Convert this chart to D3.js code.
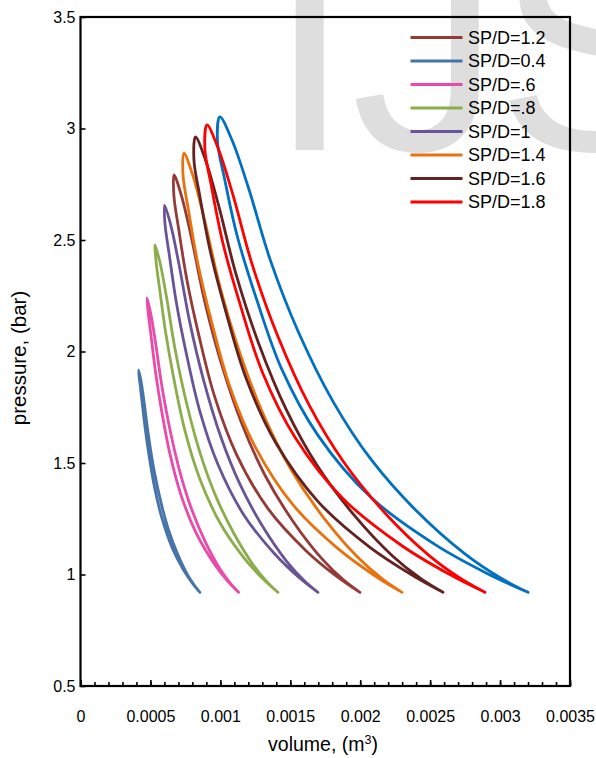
<!DOCTYPE html>
<html><head><meta charset="utf-8">
<script src="https://cdn.jsdelivr.net/npm/d3@7"></script>
<style>body{margin:0;background:#fff}</style>
</head><body><svg id="chart" width="596" height="758"></svg>
<script>
// ---- tick labels ----
const volumeTicks = [0, 0.0005, 0.001, 0.0015, 0.002, 0.0025, 0.003, 0.0035];
const volumeTickLabels = ["0", "0.0005", "0.001", "0.0015", "0.002", "0.0025", "0.003", "0.0035"];
const pressureTicks = [0.5, 1, 1.5, 2, 2.5, 3, 3.5];
const pressureTickLabels = ["0.5", "1", "1.5", "2", "2.5", "3", "3.5"];

// ---- series (each loop: from the bottom tip up the inner branch, over the peak, down the outer branch) ----
const seriesNames = ["SP/D=1.2", "SP/D=0.4", "SP/D=.6", "SP/D=.8", "SP/D=1", "SP/D=1.4", "SP/D=1.6", "SP/D=1.8", "unlabelled"];

const vol_12 = [0.001998, 0.001825, 0.001612, 0.001342, 0.001116, 0.000958, 0.000843, 0.000760, 0.000702, 0.000668, 0.000669, 0.000722, 0.000793, 0.000886, 0.001005, 0.001158, 0.001320, 0.001520, 0.001727, 0.001880, 0.001998];
const pres_12 = [0.92, 0.995, 1.107, 1.294, 1.538, 1.800, 2.081, 2.324, 2.549, 2.698, 2.792, 2.698, 2.511, 2.230, 1.950, 1.669, 1.444, 1.238, 1.070, 0.976, 0.92];

const vol_04 = [0.000854, 0.000801, 0.000737, 0.000656, 0.000584, 0.000530, 0.000489, 0.000460, 0.000438, 0.000423, 0.000415, 0.000433, 0.000456, 0.000487, 0.000526, 0.000577, 0.000630, 0.000696, 0.000764, 0.000815, 0.000854];
const pres_04 = [0.92, 0.960, 1.020, 1.119, 1.249, 1.389, 1.538, 1.668, 1.787, 1.867, 1.917, 1.867, 1.767, 1.618, 1.468, 1.319, 1.199, 1.089, 1.000, 0.950, 0.92];

const vol_06 = [0.00113, 0.001049, 0.000952, 0.000828, 0.000719, 0.000640, 0.000579, 0.000536, 0.000505, 0.000484, 0.000475, 0.000501, 0.000536, 0.000582, 0.000641, 0.000716, 0.000796, 0.000894, 0.000996, 0.001072, 0.00113];
const pres_06 = [0.92, 0.973, 1.052, 1.184, 1.356, 1.540, 1.738, 1.910, 2.068, 2.174, 2.240, 2.174, 2.042, 1.844, 1.646, 1.448, 1.290, 1.144, 1.026, 0.960, 0.92];

const vol_08 = [0.001412, 0.001302, 0.001167, 0.000997, 0.000850, 0.000744, 0.000665, 0.000608, 0.000567, 0.000541, 0.000533, 0.000568, 0.000615, 0.000676, 0.000755, 0.000856, 0.000964, 0.001096, 0.001233, 0.001334, 0.001412];
const pres_08 = [0.92, 0.982, 1.076, 1.232, 1.434, 1.652, 1.886, 2.089, 2.275, 2.400, 2.478, 2.400, 2.244, 2.011, 1.777, 1.543, 1.356, 1.185, 1.045, 0.967, 0.92];

const vol_10 = [0.001698, 0.001558, 0.001386, 0.001168, 0.000983, 0.000852, 0.000755, 0.000685, 0.000636, 0.000605, 0.000601, 0.000645, 0.000703, 0.000780, 0.000879, 0.001005, 0.001139, 0.001303, 0.001474, 0.001600, 0.001698];
const pres_10 = [0.92, 0.989, 1.094, 1.267, 1.493, 1.735, 1.996, 2.221, 2.429, 2.568, 2.655, 2.568, 2.395, 2.135, 1.874, 1.614, 1.406, 1.215, 1.059, 0.972, 0.92];

const vol_14 = [0.002299, 0.002094, 0.001839, 0.001517, 0.001251, 0.001066, 0.000934, 0.000838, 0.000772, 0.000733, 0.000740, 0.000802, 0.000885, 0.000994, 0.001134, 0.001314, 0.001504, 0.001738, 0.001981, 0.002160, 0.002299];
const pres_14 = [0.92, 0.999, 1.117, 1.314, 1.570, 1.846, 2.141, 2.398, 2.634, 2.792, 2.890, 2.792, 2.595, 2.299, 2.004, 1.708, 1.472, 1.255, 1.078, 0.979, 0.92];

const vol_16 = [0.002592, 0.002358, 0.002065, 0.001697, 0.001393, 0.001184, 0.001036, 0.000927, 0.000853, 0.000811, 0.000822, 0.000893, 0.000987, 0.001111, 0.001270, 0.001473, 0.001689, 0.001955, 0.002231, 0.002434, 0.002592];
const pres_16 = [0.92, 1.002, 1.124, 1.328, 1.594, 1.880, 2.186, 2.452, 2.697, 2.860, 2.962, 2.860, 2.656, 2.349, 2.043, 1.737, 1.492, 1.267, 1.083, 0.981, 0.92];

const vol_18 = [0.002892, 0.002628, 0.002296, 0.001879, 0.001537, 0.001302, 0.001137, 0.001016, 0.000935, 0.000889, 0.000905, 0.000984, 0.001090, 0.001229, 0.001408, 0.001636, 0.001879, 0.002177, 0.002487, 0.002715, 0.002892];
const pres_18 = [0.92, 1.004, 1.130, 1.339, 1.612, 1.905, 2.220, 2.492, 2.744, 2.911, 3.016, 2.911, 2.702, 2.387, 2.073, 1.758, 1.507, 1.276, 1.088, 0.983, 0.92];

const vol_x = [0.003200, 0.002907, 0.002539, 0.002076, 0.001698, 0.001438, 0.001255, 0.001120, 0.001030, 0.000979, 0.000997, 0.001085, 0.001202, 0.001356, 0.001554, 0.001808, 0.002076, 0.002407, 0.002751, 0.003004, 0.003200];
const pres_x = [0.92, 1.005, 1.133, 1.346, 1.624, 1.922, 2.242, 2.519, 2.775, 2.945, 3.052, 2.945, 2.732, 2.412, 2.093, 1.773, 1.517, 1.282, 1.091, 0.984, 0.92];

const seriesColors = ["#943a37", "#4674aa", "#e84ba9", "#8cad4c", "#6a5496", "#e8730e", "#632220", "#ff0000", "#0070c0"];

// watermark letters
const watermarkLetters = ["I", "J", "S"];

// ---- build ----
const seriesVol = [vol_12, vol_04, vol_06, vol_08, vol_10, vol_14, vol_16, vol_18, vol_x];
const seriesPres = [pres_12, pres_04, pres_06, pres_08, pres_10, pres_14, pres_16, pres_18, pres_x];
const series = seriesNames.map((name, i) => ({
  name, color: seriesColors[i], inLegend: i < 8,
  points: seriesVol[i].map((v, j) => ({v, p: seriesPres[i][j]}))
}));

const FONT = "'Liberation Sans', Arial, sans-serif";
const svg = d3.select("#chart");
const x = d3.scaleLinear().domain([0, 0.0035]).range([80.5, 570]);
const y = d3.scaleLinear().domain([0.5, 3.5]).range([686, 17]);

// watermark (behind everything)
const wmX = [268, 351, 496];
watermarkLetters.forEach((ch, i) => {
  svg.append("text").attr("x", wmX[i]).attr("y", 150)
    .attr("font-family", FONT).attr("font-size", 300)
    .attr("fill", "#dedede").text(ch);
});

// curves
const line = d3.line().x(d => x(d.v)).y(d => y(d.p)).curve(d3.curveCatmullRom.alpha(0.5));
const drawOrder = [8, 0, 1, 2, 3, 4, 5, 6, 7];
drawOrder.forEach(i => {
  svg.append("path").datum(series[i].points)
    .attr("d", line).attr("fill", "none")
    .attr("stroke", series[i].color).attr("stroke-width", 2.8)
    .attr("stroke-linejoin", "round").attr("stroke-linecap", "round");
});

// axes
const xAxis = d3.axisBottom(x).tickValues(volumeTicks)
  .tickFormat((d, i) => volumeTickLabels[i]).tickSize(-6).tickPadding(25);
const gx = svg.append("g").attr("transform", "translate(0,686)").call(xAxis);
const xMinor = d3.axisBottom(x).tickValues(d3.range(0, 0.00351, 0.0001)).tickFormat("").tickSize(-4);
const gxm = svg.append("g").attr("transform", "translate(0,686)").call(xMinor);
const yAxis = d3.axisLeft(y).tickValues(pressureTicks)
  .tickFormat((d, i) => pressureTickLabels[i]).tickSize(-5).tickPadding(5);
const gy = svg.append("g").attr("transform", "translate(80.5,0)").call(yAxis);
[gx, gxm, gy].forEach(g => {
  g.select(".domain").remove();
  g.selectAll(".tick line").attr("stroke", "#000").attr("stroke-width", 1.6);
  g.selectAll("text").attr("font-family", FONT).attr("font-size", 16).attr("fill", "#000");
});

// frame
svg.append("rect").attr("x", 80.5).attr("y", 17).attr("width", 570 - 80.5).attr("height", 686 - 17)
  .attr("fill", "none").attr("stroke", "#000").attr("stroke-width", 2.2);

// axis titles
const xt = svg.append("text").attr("x", 323).attr("y", 751).attr("text-anchor", "middle")
  .attr("font-family", FONT).attr("font-size", 19.5).attr("fill", "#000");
xt.append("tspan").text("volume, (m");
xt.append("tspan").attr("dy", -7).attr("font-size", 12.5).text("3");
xt.append("tspan").attr("dy", 7).text(")");
svg.append("text").attr("transform", "translate(26,358) rotate(-90)").attr("text-anchor", "middle")
  .attr("font-family", FONT).attr("font-size", 20.5).attr("fill", "#000").text("pressure, (bar)");

// legend
const legend = series.filter(s => s.inLegend);
legend.forEach((s, i) => {
  const cy = 37.5 + i * 23.5;
  svg.append("line").attr("x1", 410.5).attr("x2", 462.5).attr("y1", cy).attr("y2", cy)
    .attr("stroke", s.color).attr("stroke-width", 3);
  svg.append("text").attr("x", 468).attr("y", cy).attr("dy", "0.36em")
    .attr("font-family", FONT).attr("font-size", 18).attr("fill", "#000").text(s.name);
});
</script>
</body></html>
